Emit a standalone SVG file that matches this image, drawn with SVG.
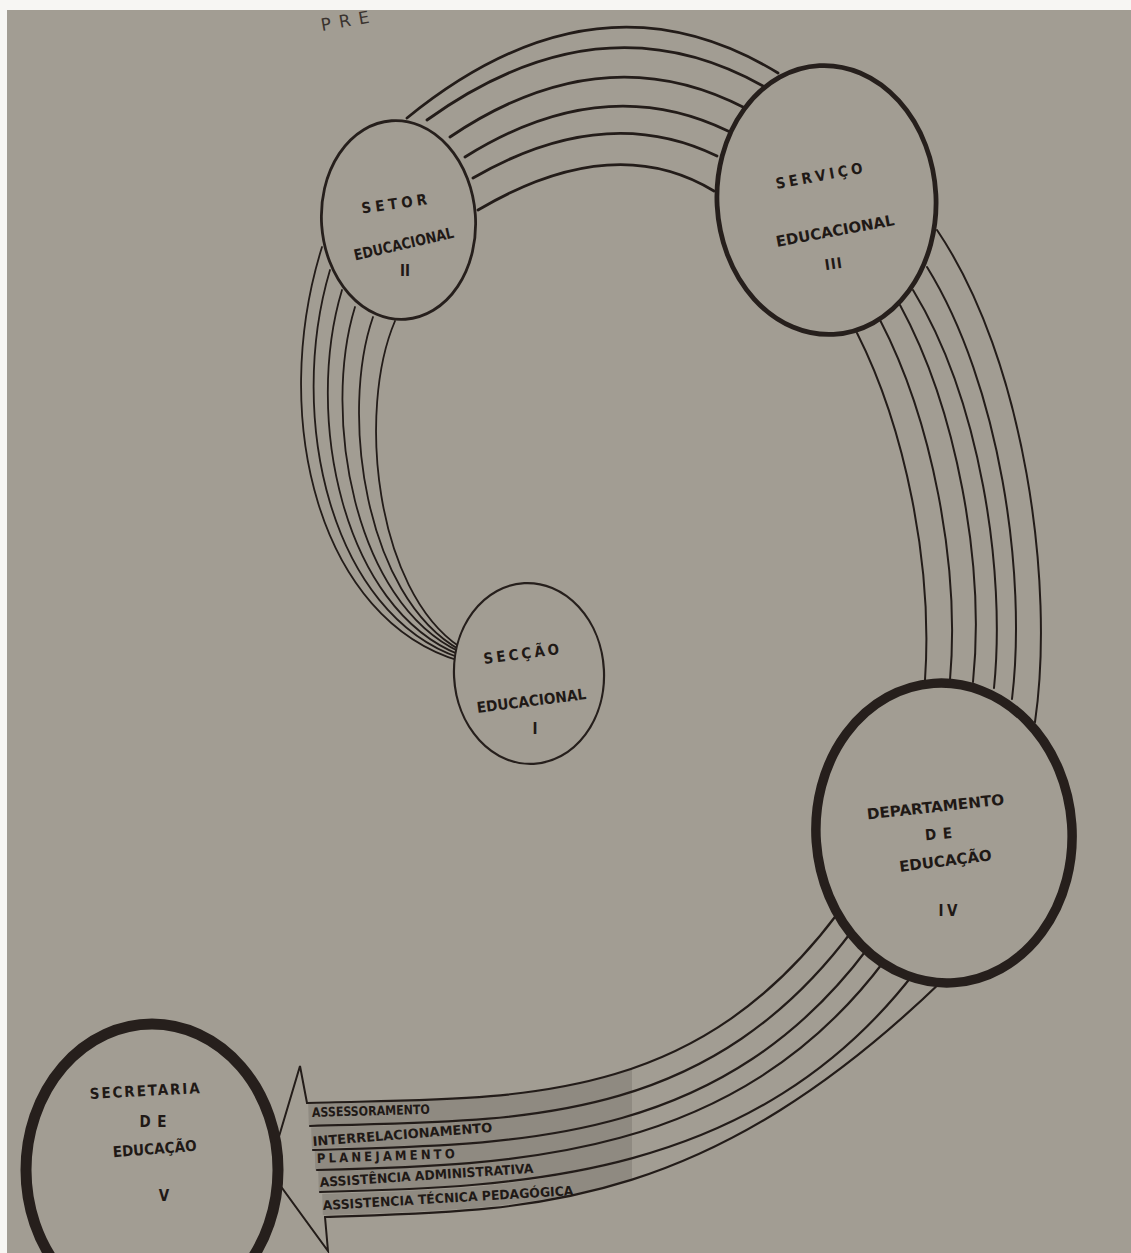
<svg xmlns="http://www.w3.org/2000/svg" width="1131" height="1253" viewBox="0 0 1131 1253">
<defs>
<style>
.paper{fill:#a29d93}
.nd{fill:#a29d93;stroke:#261f1c}
.t{font-family:"DejaVu Sans Condensed","DejaVu Sans",sans-serif;font-weight:bold;fill:#1f1916;text-anchor:middle;font-size:15px}
.s{font-family:"DejaVu Sans Condensed","DejaVu Sans",sans-serif;font-weight:bold;fill:#1f1916;font-size:13px}
.c{fill:none;stroke:#231c19;stroke-linecap:round}
.top{stroke-width:2.8}
.rt{stroke-width:2}
.lf{stroke-width:1.8}
.bt{stroke-width:2.2}
.gray{fill:none;stroke:#8f8a81;stroke-width:21}
</style>
<clipPath id="shade"><rect x="308" y="1040" width="324" height="200"/></clipPath>
</defs>
<rect width="1131" height="1253" fill="#f7f6f3"/>
<rect x="7" y="10" width="1124" height="1243" class="paper"/>
<text x="322" y="31" transform="rotate(-10 322 31)" font-family="DejaVu Sans, sans-serif" font-size="17" fill="#3a332f" letter-spacing="8">PRE</text>

<g id="connectors">
  <g id="band-II-III" class="c top">
    <path d="M407 118 Q597.5 -37.5 778 73"/>
    <path d="M427 120 Q601 -5 763 86"/>
    <path d="M450 137 Q602.5 34 745 108"/>
    <path d="M465 157 Q603 70.5 728 131"/>
    <path d="M473 178 Q605 101.5 717 156"/>
    <path d="M478 210 Q613.5 130 714 191"/>
  </g>
  <g id="band-III-IV" class="c rt">
    <path d="M857 333 C905 428 933 565 925 680"/>
    <path d="M880 320 C932 420 960 565 950 680"/>
    <path d="M900 305 C957 410 985 565 973 682"/>
    <path d="M913 290 C980 400 1006 570 994 688"/>
    <path d="M927 267 C1000 385 1027 575 1012 699"/>
    <path d="M937 230 C1025 360 1055 585 1035 722"/>
  </g>
  <g id="band-II-I" class="c lf">
    <path d="M322 247 C268 420 320 620 460 661"/>
    <path d="M330 270 C286 418 331 614 460 658"/>
    <path d="M342 290 C304 416 342 608 460 655"/>
    <path d="M355 307 C322 414 353 602 460 652"/>
    <path d="M373 317 C340 412 364 596 460 650"/>
    <path d="M395 321 C357 410 375 590 460 647"/>
  </g>
  <g id="shading" class="gray" clip-path="url(#shade)">
    <path d="M845 922 C696 1121 508.5 1108.5 308.5 1114.5"/>
    <path d="M860 939.5 C711 1138.5 511.5 1132 311.5 1138"/>
    <path d="M876.5 954 C727.5 1153 515 1154.5 315 1160"/>
    <path d="M900 966 C745.5 1169.5 518.5 1176 318.5 1181"/>
    <path d="M929 976 C727.5 1197.5 522.5 1198.5 322.5 1204.5"/>
  </g>
  <g id="band-IV-V" class="c bt">
    <path d="M838 913 C689 1112 507 1097 307 1103"/>
    <path d="M852 931 C703 1130 510 1120 310 1126"/>
    <path d="M868 948 C719 1147 513 1144 313 1150"/>
    <path d="M885 960 C736 1159 517 1165 317 1170"/>
    <path d="M915 972 C755 1180 520 1187 320 1192"/>
    <path d="M943 980 C700 1215 525 1210 325 1217"/>
  </g>
  <path id="arrowhead" class="c" stroke-width="2" stroke-linejoin="miter" d="M307 1103 L300 1066 L269 1170 L328 1251 L325 1217"/>
  <g id="arrow-labels" class="s">
    <text x="312" y="1117" transform="rotate(-1.6 312 1117)" textLength="118" lengthAdjust="spacingAndGlyphs">ASSESSORAMENTO</text>
    <text x="313" y="1146" transform="rotate(-4.5 313 1146)" textLength="180" lengthAdjust="spacingAndGlyphs">INTERRELACIONAMENTO</text>
    <text x="317" y="1163" transform="rotate(-2 317 1163)" textLength="138" lengthAdjust="spacing">PLANEJAMENTO</text>
    <text x="320" y="1187" transform="rotate(-3.8 320 1187)" textLength="214" lengthAdjust="spacingAndGlyphs">ASSISTÊNCIA ADMINISTRATIVA</text>
    <text x="323" y="1210" transform="rotate(-3.4 323 1210)" textLength="251" lengthAdjust="spacingAndGlyphs">ASSISTENCIA TÉCNICA PEDAGÓGICA</text>
  </g>
</g>

<g id="node-setor">
  <ellipse cx="398.5" cy="220" rx="77" ry="99.5" class="nd" stroke-width="2.8" transform="rotate(-4 398.5 220)"/>
  <text class="t" x="395" y="209" transform="rotate(-8 395 209)" textLength="66" lengthAdjust="spacing">SETOR</text>
  <text class="t" x="405" y="249" transform="rotate(-13 405 249)" textLength="102" lengthAdjust="spacingAndGlyphs">EDUCACIONAL</text>
  <text class="t" x="405" y="276" textLength="10" lengthAdjust="spacing">II</text>
</g>
<g id="node-servico">
  <ellipse cx="826.5" cy="200" rx="109.5" ry="134.5" class="nd" stroke-width="4.8" transform="rotate(-3 826.5 200)"/>
  <text class="t" x="820" y="181" font-size="16" transform="rotate(-10.5 820 181)" textLength="88" lengthAdjust="spacing">SERVIÇO</text>
  <text class="t" x="836" y="236" font-size="16" transform="rotate(-10.5 836 236)" textLength="120" lengthAdjust="spacingAndGlyphs">EDUCACIONAL</text>
  <text class="t" x="834" y="269" font-size="16" transform="rotate(-8 834 269)" textLength="17" lengthAdjust="spacing">III</text>
</g>
<g id="node-seccao">
  <ellipse cx="529" cy="673.5" rx="75" ry="90.5" class="nd" stroke-width="2.2" transform="rotate(-3 529 673.5)"/>
  <text class="t" x="522" y="659" transform="rotate(-7.5 522 659)" textLength="76" lengthAdjust="spacing">SECÇÃO</text>
  <text class="t" x="532" y="706" transform="rotate(-7.3 532 706)" textLength="110" lengthAdjust="spacingAndGlyphs">EDUCACIONAL</text>
  <text class="t" x="535" y="734">I</text>
</g>
<g id="node-departamento">
  <ellipse cx="944" cy="833" rx="128" ry="150" class="nd" stroke-width="9.5" transform="rotate(-4 944 833)"/>
  <text class="t" x="936" y="812" font-size="16" transform="rotate(-6.2 936 812)" textLength="138" lengthAdjust="spacingAndGlyphs">DEPARTAMENTO</text>
  <text class="t" x="939" y="839" font-size="16" transform="rotate(-5 939 839)" textLength="27" lengthAdjust="spacing">DE</text>
  <text class="t" x="946" y="866" font-size="16" transform="rotate(-7.3 946 866)" textLength="93" lengthAdjust="spacingAndGlyphs">EDUCAÇÃO</text>
  <text class="t" x="948" y="916" font-size="16" textLength="19" lengthAdjust="spacing">IV</text>
</g>
<g id="node-secretaria">
  <ellipse cx="152" cy="1170" rx="126" ry="146" class="nd" stroke-width="11"/>
  <text class="t" x="145" y="1096" font-size="16" transform="rotate(-3 145 1096)" textLength="110" lengthAdjust="spacing">SECRETARIA</text>
  <text class="t" x="153" y="1127" font-size="16" textLength="27" lengthAdjust="spacing">DE</text>
  <text class="t" x="155" y="1154" font-size="16" transform="rotate(-4.5 155 1154)" textLength="84" lengthAdjust="spacing">EDUCAÇÃO</text>
  <text class="t" x="164" y="1201" font-size="16">V</text>
</g>
</svg>
